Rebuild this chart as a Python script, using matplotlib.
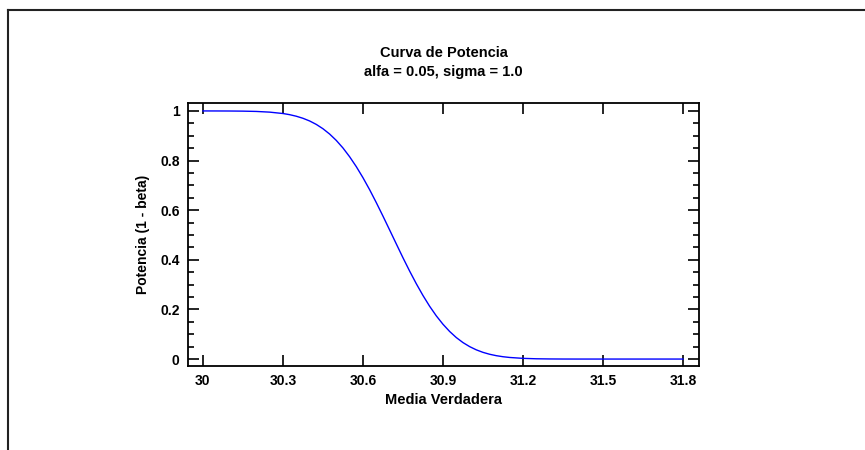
import matplotlib
matplotlib.use("Agg")
import matplotlib.pyplot as plt
from matplotlib.lines import Line2D
from matplotlib.ticker import MultipleLocator

plt.rcParams['font.family'] = ['Liberation Sans', 'DejaVu Sans']

media = [30.00, 30.05, 30.10, 30.15, 30.20, 30.25, 30.30, 30.325, 30.35, 30.375,
         30.40, 30.425, 30.45, 30.475, 30.50, 30.525, 30.55, 30.575, 30.60, 30.625,
         30.65, 30.675, 30.70, 30.725, 30.75, 30.775, 30.80, 30.825, 30.85, 30.875,
         30.90, 30.925, 30.95, 30.975, 31.00, 31.025, 31.05, 31.075, 31.10, 31.125,
         31.15, 31.20, 31.25, 31.30, 31.35, 31.40, 31.45, 31.50, 31.55, 31.60,
         31.65, 31.70, 31.75, 31.80]
potencia = [1.0000, 0.9999, 0.9997, 0.9992, 0.9980, 0.9952, 0.9896, 0.9850, 0.9787, 0.9704,
            0.9596, 0.9457, 0.9283, 0.9069, 0.8812, 0.8508, 0.8154, 0.7755, 0.7310, 0.6826,
            0.6305, 0.5761, 0.5203, 0.4641, 0.4083, 0.3546, 0.3036, 0.2562, 0.2128, 0.1741,
            0.1403, 0.1112, 0.0866, 0.0664, 0.0501, 0.0371, 0.0270, 0.0193, 0.0136, 0.0094,
            0.0064, 0.0028, 0.0011, 0.0004, 0.0001, 0.0000, 0.0000, 0.0000, 0.0000, 0.0000,
            0.0000, 0.0000, 0.0000, 0.0000]
x_ticks = [30.0, 30.3, 30.6, 30.9, 31.2, 31.5, 31.8]
x_labels = ["30", "30.3", "30.6", "30.9", "31.2", "31.5", "31.8"]
y_ticks = [0, 0.2, 0.4, 0.6, 0.8, 1.0]
y_labels = ["0", "0.2", "0.4", "0.6", "0.8", "1"]

fig = plt.figure(figsize=(8.65, 4.5), dpi=100)
ax = fig.add_axes([188/865, 1-366/450, 511/865, 263/450])
ax.plot(media, potencia, color='#0000ff', lw=1.0)
ax.set_xlim(29.944, 31.86)
ax.set_ylim(-0.028, 1.032)
ax.set_xticks(x_ticks)
ax.set_xticklabels(x_labels)
ax.set_yticks(y_ticks)
ax.set_yticklabels(y_labels)
ax.yaxis.set_minor_locator(MultipleLocator(0.05))
ax.tick_params(which='major', direction='in', length=8, width=1.2, top=True, right=True,
               labelsize=10, pad=6)
ax.tick_params(which='minor', direction='in', length=4, width=1.2, left=True, right=True)
for lab in ax.get_xticklabels() + ax.get_yticklabels():
    lab.set_fontweight('bold')
for s in ax.spines.values():
    s.set_linewidth(1.3)
ax.set_xlabel("Media Verdadera", fontsize=10.5, fontweight='bold', labelpad=3)
ax.set_ylabel("Potencia (1 - beta)", fontsize=10, fontweight='bold', labelpad=7)

fig.text(443.5/865, 1-53/450, "Curva de Potencia", ha='center', va='center',
         fontsize=10.5, fontweight='bold')
fig.text(443.5/865, 1-72/450, "alfa = 0.05, sigma = 1.0", ha='center', va='center',
         fontsize=10.5, fontweight='bold')

fig.add_artist(Line2D([8/865, 1.0], [1-10/450, 1-10/450], color='#222222', lw=1.5,
                      transform=fig.transFigure))
fig.add_artist(Line2D([8/865, 8/865], [0.0, 1-10/450], color='#222222', lw=1.5,
                      transform=fig.transFigure))

fig.savefig("out.png", dpi=100)
